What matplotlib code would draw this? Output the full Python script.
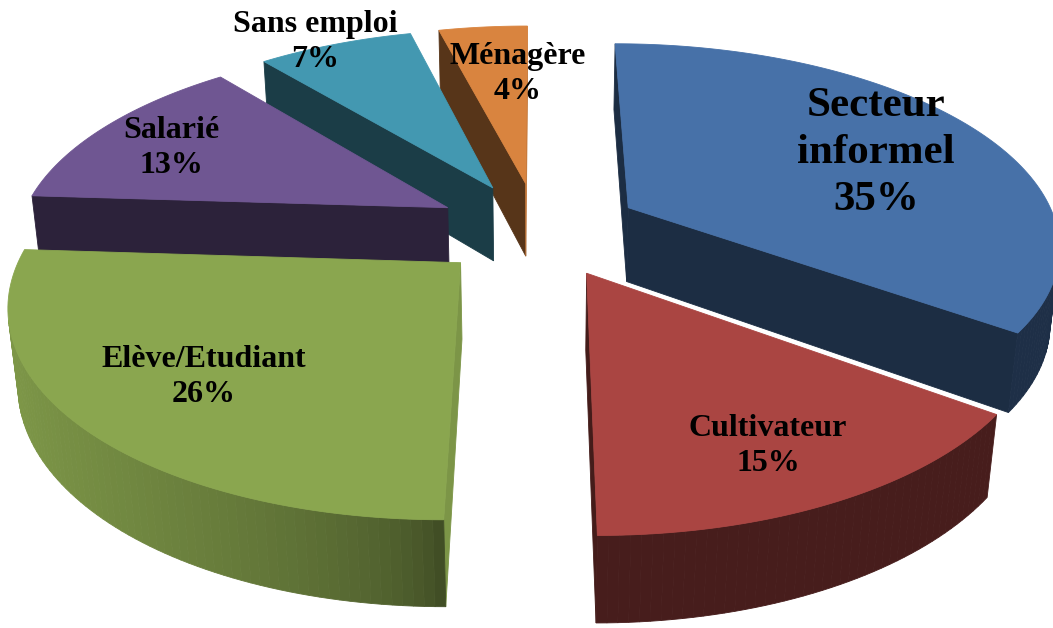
import numpy as np
import matplotlib
matplotlib.use("Agg")
import matplotlib.pyplot as plt
from matplotlib.patches import Polygon
from matplotlib.colors import to_rgb

# data
labels = ["Secteur\ninformel", "Cultivateur", "Elève/Etudiant", "Salarié", "Sans emploi", "Ménagère"]
shares = [35, 15, 26, 13, 7, 4]
colors = ["#4771a8", "#aa4542", "#8aa64f", "#6f5692", "#4398b1", "#d9843f"]

# label placement (pixels) and font sizes
label_pos = [(876, 153), (768, 446), (204, 377), (171, 148), (315, 42), (518, 74)]
label_size = [31, 23, 23, 23, 23, 23]
label_spacing = [1.3, 1.3, 1.3, 1.3, 1.3, 1.3]

# view / geometry
W, H = 1053, 628
CX, CY = 538, 229
SCALE = 430
ELEV = np.radians(27.6)
DIST = 5.1
THICK = 0.2
EXPLODE = 0.24

CAM = DIST * np.array([0.0, -np.cos(ELEV), np.sin(ELEV)])


def project(x, y, z):
    w = -y * np.cos(ELEV) + z * np.sin(ELEV)
    v = y * np.sin(ELEV) + z * np.cos(ELEV)
    f = DIST / (DIST - w)
    return CX + SCALE * x * f, CY - SCALE * v * f


def visible(p, n):
    return np.dot(CAM - np.asarray(p), n) > 0


def shade(col, k):
    return tuple(np.clip(np.array(to_rgb(col)) * k, 0, 1))


def add_poly(ax, pts3d, col):
    xy = [project(*p) for p in pts3d]
    ax.add_patch(Polygon(xy, closed=True, facecolor=col, edgecolor=col, lw=0.6))


fig = plt.figure(figsize=(W / 100, H / 100), dpi=100)
ax = fig.add_axes([0, 0, 1, 1])
ax.set_xlim(0, W)
ax.set_ylim(H, 0)
ax.axis("off")

fracs = np.array(shares) / np.sum(shares)
ends = np.cumsum(fracs) * 2 * np.pi
starts = ends - fracs * 2 * np.pi
mids = (starts + ends) / 2

# back slices first
order = sorted(range(len(shares)), key=lambda i: -np.cos(mids[i]))

for i in order:
    t0, t1, tm = starts[i], ends[i], mids[i]
    ox, oy = EXPLODE * np.sin(tm), EXPLODE * np.cos(tm)
    col = colors[i]
    arc = np.linspace(t0, t1, max(int((t1 - t0) / 0.02), 4))

    # radial faces
    for t, sgn in ((t0, -1), (t1, 1)):
        n = np.array([np.sin(t + sgn * np.pi / 2), np.cos(t + sgn * np.pi / 2), 0])
        pts = [(ox, oy, 0), (ox + np.sin(t), oy + np.cos(t), 0),
               (ox + np.sin(t), oy + np.cos(t), -THICK), (ox, oy, -THICK)]
        if visible(pts[1], n):
            add_poly(ax, pts, shade(col, 0.4 + 0.5 * max(0.0, n[0])))

    # outer wall, split in strips for a gradient
    for a, b in zip(arc[:-1], arc[1:]):
        am = (a + b) / 2
        n = np.array([np.sin(am), np.cos(am), 0])
        p = (ox + np.sin(am), oy + np.cos(am), 0)
        if not visible(p, n):
            continue
        k = 0.42 + 0.5 * max(0.0, -n[0]) ** 0.5
        pts = [(ox + np.sin(a), oy + np.cos(a), 0), (ox + np.sin(b), oy + np.cos(b), 0),
               (ox + np.sin(b), oy + np.cos(b), -THICK), (ox + np.sin(a), oy + np.cos(a), -THICK)]
        add_poly(ax, pts, shade(col, k))

    # top face
    pts = [(ox, oy, 0)] + [(ox + np.sin(a), oy + np.cos(a), 0) for a in arc]
    add_poly(ax, pts, col)

for i in range(len(shares)):
    x, y = label_pos[i]
    ax.text(x, y, f"{labels[i]}\n{shares[i]}%", ha="center", va="center",
            fontsize=label_size[i], fontweight="bold", family="Liberation Serif",
            linespacing=label_spacing[i], color="black")

fig.savefig("out.png", dpi=100)
